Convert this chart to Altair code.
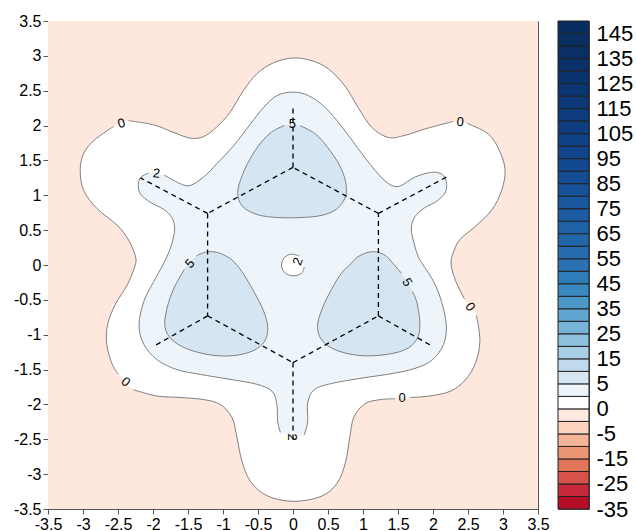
import altair as alt
import pandas as pd

# ---------------- data ----------------
TICKS = [-3.5, -3, -2.5, -2, -1.5, -1, -0.5, 0, 0.5, 1, 1.5, 2, 2.5, 3, 3.5]

# colour-bar level boundaries (bottom -> top) and box colours
LEVELS = [-35, -30, -25, -20, -15, -10, -5, -2, 0, 2, 5, 10, 15, 20, 25, 30, 35, 40,
          45, 50, 55, 60, 65, 70, 75, 80, 85, 90, 95, 100, 105, 110, 115, 120, 125,
          130, 135, 140, 145, 150]
BOX_COLORS = ["#b40d26", "#c8283a", "#d6524a", "#e27458", "#ec9575", "#f6b596",
              "#fcd3bf", "#fee7dc", "#ffffff", "#eef5fa", "#d5e6f2", "#c0d9ec",
              "#a6cee4", "#8fc2de", "#78b4d8", "#5fa5d0", "#4a97c8", "#3989c1",
              "#2e7cb9", "#2a72b2", "#266cae", "#2266aa", "#1f61a6", "#1c5ca2",
              "#19579e", "#16529a", "#144d95", "#124990", "#10458b", "#0f4186",
              "#0e3e81", "#0d3b7c", "#0c3877", "#0b3572", "#0a336d", "#0a3169",
              "#092f65", "#092e62", "#082c5e"]
CB_LABEL_IDX = list(range(0, 39, 2))

# contour "0" (outer), counter-clockwise; a label gap follows the listed indices
C0_X = [2.29, 1.88, 1.60, 1.36, 1.12, 0.93, 0.74, 0.51, 0.27, 0.00, -0.28, -0.52, -0.71,
        -0.90, -1.09, -1.28, -1.47, -1.70, -1.99, -2.35, -2.56, -2.84, -2.99, -3.04,
        -2.99, -2.80, -2.51, -2.35, -2.25, -2.26, -2.37, -2.54, -2.65, -2.66, -2.58,
        -2.49, -2.28, -1.94, -1.61, -1.28, -1.04, -0.87, -0.80, -0.73, -0.61, -0.37,
        0.00, 0.40, 0.63, 0.75, 0.81, 0.87, 1.03, 1.25, 1.46, 1.67, 1.94, 2.25, 2.46,
        2.61, 2.67, 2.62, 2.45, 2.32, 2.26, 2.28, 2.38, 2.60, 2.84, 2.98, 3.03, 2.95,
        2.79, 2.49]
C0_Y = [2.06, 1.95, 1.86, 1.83, 1.98, 2.26, 2.57, 2.81, 2.93, 2.97, 2.90, 2.74, 2.50,
        2.19, 1.98, 1.84, 1.82, 1.90, 2.01, 2.07, 1.99, 1.79, 1.60, 1.36, 1.07, 0.81,
        0.57, 0.36, 0.12, -0.02, -0.29, -0.57, -0.86, -1.14, -1.43, -1.57, -1.79,
        -1.88, -1.90, -1.93, -2.00, -2.19, -2.48, -2.81, -3.10, -3.31, -3.39, -3.32,
        -3.13, -2.83, -2.48, -2.18, -1.99, -1.93, -1.92, -1.90, -1.88, -1.81, -1.65,
        -1.40, -1.08, -0.72, -0.49, -0.22, 0.00, 0.15, 0.36, 0.55, 0.79, 1.07, 1.36,
        1.64, 1.88, 2.03]
C0_GAPS = [19, 35, 54, 61]

# contour "2" (outer)
C2_X = [-2.06, -2.17, -2.21, -2.18, -2.04, -1.85, -1.73, -1.69, -1.73, -1.80, -1.86,
        -1.99, -2.13, -2.20, -2.13, -1.94, -1.66, -1.32, -0.90, -0.52, -0.30, -0.23,
        -0.22, -0.18, 0.16, 0.21, 0.21, 0.30, 0.55, 1.00, 1.40, 1.72, 1.98, 2.15, 2.19,
        2.12, 2.01, 1.86, 1.79, 1.73, 1.69, 1.74, 1.88, 2.06, 2.18, 2.19, 2.13, 1.98,
        1.74, 1.52, 1.36, 1.17, 0.93, 0.70, 0.46, 0.22, 0.00, -0.23, -0.42, -0.61,
        -0.85, -1.09, -1.28, -1.47, -1.62, -1.84]
C2_Y = [1.32, 1.26, 1.16, 1.02, 0.90, 0.80, 0.68, 0.52, 0.31, 0.12, 0.00, -0.24, -0.52,
        -0.86, -1.14, -1.36, -1.50, -1.57, -1.64, -1.71, -1.81, -2.00, -2.24, -2.40,
        -2.44, -2.24, -1.98, -1.79, -1.70, -1.62, -1.56, -1.49, -1.37, -1.14, -0.86,
        -0.52, -0.24, 0.00, 0.12, 0.31, 0.52, 0.69, 0.82, 0.92, 1.05, 1.19, 1.30, 1.33,
        1.26, 1.13, 1.17, 1.36, 1.67, 1.98, 2.26, 2.43, 2.48, 2.43, 2.26, 2.02, 1.71,
        1.45, 1.26, 1.14, 1.17, 1.29]
C2_GAPS = [23]

# contour "2" around the centre (a dip)
D2_X = [0.09, -0.02, -0.12, -0.165, -0.12, 0.00, 0.12, 0.16]
D2_Y = [0.13, 0.155, 0.11, 0.00, -0.11, -0.155, -0.12, -0.03]

# contour "5": three lobes
T5_X = [-0.12, -0.27, -0.42, -0.58, -0.72, -0.79, -0.72, -0.50, -0.20, 0.10, 0.40, 0.62,
        0.75, 0.75, 0.66, 0.50, 0.32, 0.10]
T5_Y = [2.00, 1.93, 1.80, 1.58, 1.30, 1.04, 0.84, 0.72, 0.68, 0.68, 0.71, 0.80, 0.98,
        1.20, 1.44, 1.68, 1.88, 2.00]
L5_X = [-1.55, -1.70, -1.80, -1.83, -1.74, -1.52, -1.18, -0.85, -0.57, -0.41, -0.36,
        -0.42, -0.56, -0.72, -0.87, -1.05, -1.23, -1.38]
L5_Y = [-0.06, -0.33, -0.62, -0.88, -1.06, -1.20, -1.29, -1.30, -1.23, -1.10, -0.90,
        -0.66, -0.38, -0.11, 0.07, 0.17, 0.19, 0.13]
R5_X = [1.55, 1.43, 1.30, 1.12, 0.93, 0.81, 0.69, 0.55, 0.42, 0.35, 0.42, 0.64, 0.98,
        1.36, 1.65, 1.79, 1.81, 1.77, 1.71]
R5_Y = [-0.12, 0.02, 0.15, 0.19, 0.12, 0.00, -0.12, -0.35, -0.62, -0.88, -1.09, -1.23,
        -1.30, -1.28, -1.19, -1.02, -0.80, -0.54, -0.38]

# contour labels
LBL_TEXT = ["0", "0", "0", "0", "0", "2", "2", "2", "5", "5", "5"]
LBL_X = [-2.45, -2.39, 1.56, 2.53, 2.39, -1.95, 0.07, -0.02, -0.01, -1.47, 1.63]
LBL_Y = [2.03, -1.68, -1.91, -0.60, 2.05, 1.31, 0.05, -2.47, 2.02, 0.02, -0.25]
LBL_ANGLE = [345, 40, 0, 55, 5, 5, 290, 90, 0, 313, 60]

# dashed skeleton: ring atoms and outer atoms
ATOM_X = [0.00, -1.22, -1.22, 0.00, 1.22, 1.22]
ATOM_Y = [1.40, 0.74, -0.73, -1.40, -0.73, 0.74]
OUT_X = [0.00, -2.18, -1.98, 0.00, 2.00, 2.19]
OUT_Y = [2.30, 1.25, -1.16, -2.52, -1.17, 1.26]

# ---------------- styles ----------------
PINK = BOX_COLORS[7]
WHITE = BOX_COLORS[8]
BLUE1 = BOX_COLORS[9]
BLUE2 = BOX_COLORS[10]
LINE = "#808080"
FRAME = "#555555"
FONT = "Liberation Sans"


def contour(name, xs, ys, gaps):
    seg, s = [], 0
    for i in range(len(xs)):
        seg.append(f"{name}-{s}")
        if i in gaps:
            s += 1
    return pd.DataFrame({"x": xs, "y": ys, "i": list(range(len(xs))),
                         "poly": name, "seg": seg})


c0 = contour("c0", C0_X, C0_Y, C0_GAPS)
c2 = contour("c2", C2_X, C2_Y, C2_GAPS)
d2 = contour("d2", D2_X, D2_Y, [])
t5 = contour("t5", T5_X, T5_Y, [])
l5 = contour("l5", L5_X, L5_Y, [])
r5 = contour("r5", R5_X, R5_Y, [])
lobes = pd.concat([t5, l5, r5], ignore_index=True)
all_lines = pd.concat([c0, c2, d2, t5, l5, r5], ignore_index=True)

xs = alt.Scale(domain=[TICKS[0], TICKS[-1]], nice=False, zero=False)
ys = alt.Scale(domain=[TICKS[0], TICKS[-1]], nice=False, zero=False)
ax_common = dict(values=TICKS, labelExpr="'' + datum.value", tickSize=5, grid=False,
                 title=None, domainColor=FRAME, tickColor=FRAME, labelFontSize=16,
                 labelColor="black", labelFont=FONT, labelPadding=2)
X = alt.X("x:Q", scale=xs, axis=alt.Axis(labelFlush=False, **ax_common))
Y = alt.Y("y:Q", scale=ys, axis=alt.Axis(**ax_common))

bg = alt.Chart(pd.DataFrame({"x": [TICKS[0]], "x2": [TICKS[-1]],
                             "y": [TICKS[0]], "y2": [TICKS[-1]]})).mark_rect(
    color=PINK).encode(x=X, x2="x2:Q", y=Y, y2="y2:Q")


def fill_layer(df, color):
    return alt.Chart(df).mark_line(interpolate="cardinal-closed", filled=True,
                                   color=color, strokeWidth=0).encode(
        x=X, y=Y, order="i:Q", detail="poly:N")


f0 = fill_layer(c0, WHITE)
f2 = fill_layer(c2, BLUE1)
fd = fill_layer(d2, WHITE)
f5 = fill_layer(lobes, BLUE2)

lines = alt.Chart(all_lines).mark_line(interpolate="cardinal", color=LINE,
                                       strokeWidth=1).encode(
    x=X, y=Y, order="i:Q", detail="seg:N")

bx1, by1, bx2, by2 = [], [], [], []
for k in range(6):
    j = (k + 1) % 6
    bx1 += [ATOM_X[k], ATOM_X[k]]
    by1 += [ATOM_Y[k], ATOM_Y[k]]
    bx2 += [ATOM_X[j], OUT_X[k]]
    by2 += [ATOM_Y[j], OUT_Y[k]]
bonds = alt.Chart(pd.DataFrame({"x": bx1, "y": by1, "x2": bx2, "y2": by2})).mark_rule(
    color="black", strokeWidth=1.3, strokeDash=[5, 4]).encode(
    x=X, y=Y, x2="x2:Q", y2="y2:Q")

labels = alt.Chart(pd.DataFrame({"x": LBL_X, "y": LBL_Y, "t": LBL_TEXT,
                                 "a": LBL_ANGLE})).mark_text(
    font=FONT, fontSize=13, color="black", baseline="middle", align="center").encode(
    x=X, y=Y, text="t:N", angle=alt.Angle("a:Q", scale=None))

main = alt.layer(bg, f0, f2, fd, f5, lines, bonds, labels).properties(width=490, height=488)

cb_df = pd.DataFrame({"y0": list(range(39)), "y1": list(range(1, 40)),
                      "x0": [0] * 39, "x1": [1] * 39, "c": BOX_COLORS})
label_arr = "[" + ",".join("'" + str(v) + "'" for v in LEVELS) + "]"
colorbar = alt.Chart(cb_df).mark_rect(stroke="#222222", strokeWidth=1).encode(
    x=alt.X("x0:Q", scale=alt.Scale(domain=[0, 1], nice=False), axis=None),
    x2="x1:Q",
    y=alt.Y("y0:Q", scale=alt.Scale(domain=[0, 39], nice=False, zero=False),
            axis=alt.Axis(orient="right", values=CB_LABEL_IDX,
                          labelExpr=label_arr + "[datum.value]", tickSize=0,
                          domain=False, grid=False, title=None, labelFontSize=22,
                          labelColor="black", labelFont=FONT, labelPadding=7,
                          labelOverlap=False)),
    y2="y1:Q",
    color=alt.Color("c:N", scale=None),
).properties(width=31, height=488)

chart = alt.hconcat(main, colorbar, spacing=7).properties(
    padding={"left": 12, "top": 12, "right": 0, "bottom": 0},
    background="white",
).configure_view(stroke=FRAME, strokeWidth=1)

chart.save("out.html", embed_options={"renderer": "svg", "actions": False})
